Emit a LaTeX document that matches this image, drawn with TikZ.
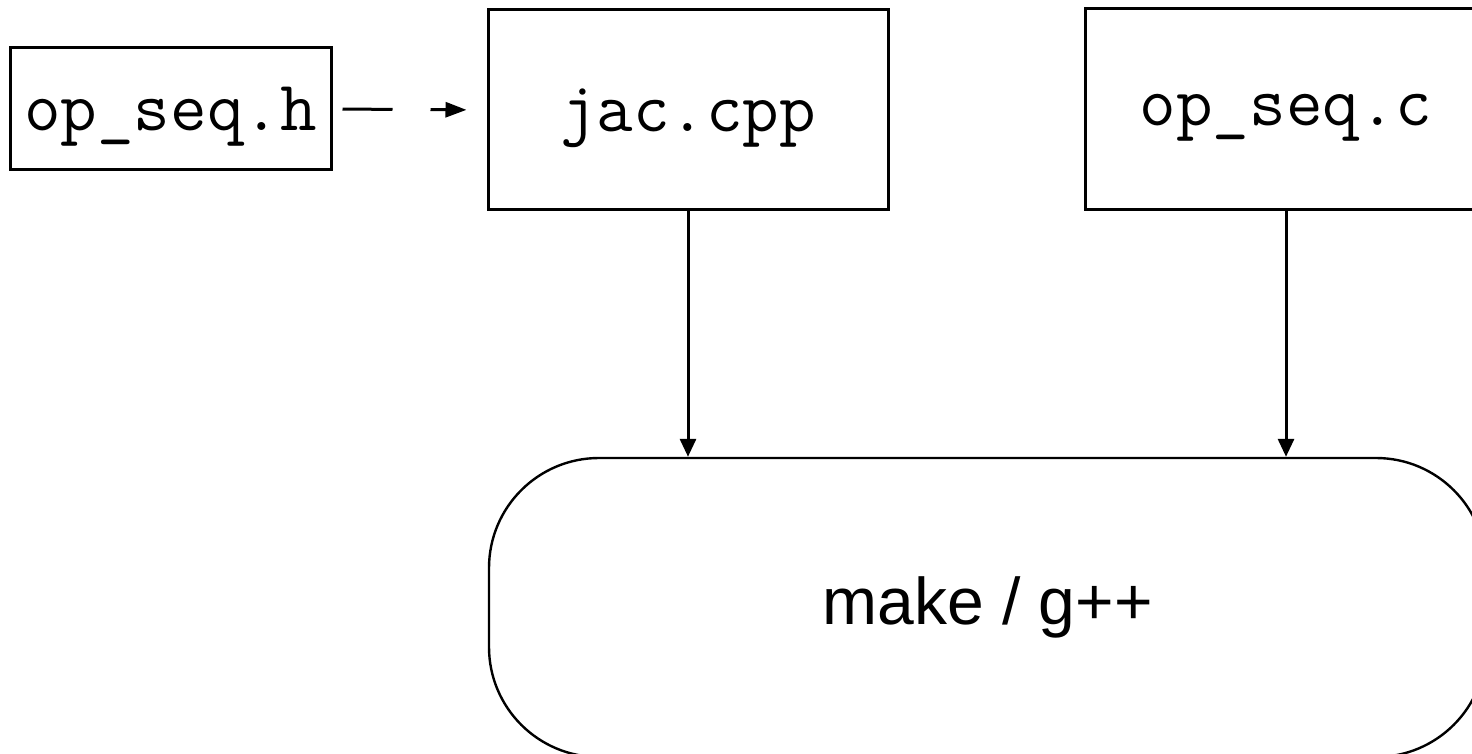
\documentclass[tikz,border=0pt]{standalone}
\usepackage{fontspec}
\setsansfont{Liberation Sans}
\usetikzlibrary{arrows.meta}
\begin{document}
\begin{tikzpicture}[x=0.5pt,y=-0.5pt,
  filebox/.style={draw,line width=1.5pt,inner sep=0pt,text depth=0pt,font=\ttfamily\fontsize{35.5pt}{40pt}\selectfont},
  toolbox/.style={draw,line width=1.2pt,rounded corners=55pt,inner sep=0pt,minimum width=498.5pt,minimum height=149.5pt,font=\sffamily\fontsize{33pt}{38pt}\selectfont},
  flow/.style={line width=1.5pt,-{Triangle[length=9pt,width=8pt]}},
  dep/.style={line width=1.5pt,dash pattern=on 25pt off 19pt,-{Triangle[length=10.5pt,width=7.5pt]},shorten <=5pt,shorten >=10pt}]
\useasboundingbox (0,0) rectangle (1472,754);
\node[filebox,minimum width=160.5pt,minimum height=61pt] (oph) at (170.5,109) {op\_seq.h};
\node[filebox,minimum width=200pt,minimum height=100pt] (jac) at (688,110) {jac.cpp};
\node[filebox,minimum width=201pt,minimum height=100.5pt] (opc) at (1286,109.5) {op\_seq.c};
\node[toolbox] (make) at (987.5,607.5) {make / g++};
\draw[dep] (oph.east) -- (jac.west);
\draw[flow] (jac.south) -- (jac.south |- make.north);
\draw[flow] (opc.south) -- (opc.south |- make.north);
\end{tikzpicture}
\end{document}
